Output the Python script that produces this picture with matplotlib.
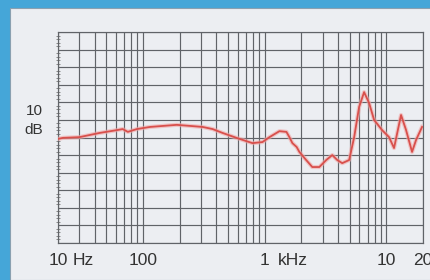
import matplotlib
matplotlib.use("Agg")
import matplotlib.pyplot as plt
from matplotlib.patches import Rectangle
from matplotlib.ticker import LogLocator, MultipleLocator, NullFormatter

# frequency response (Hz, dB)
freq = [20, 22, 30, 44, 61, 68, 75, 89, 114, 189, 242, 309, 373, 450, 586,
        793, 958, 1094, 1321, 1508, 1596, 1689, 1830, 1927, 2117, 2460, 2810,
        3206, 3592, 3946, 4337, 4946, 5436, 5972, 6561, 7212, 7926, 9220,
        10520, 11560, 13200, 14520, 16260, 17540, 19640]
level = [29.6, 29.9, 30.1, 31.3, 32.1, 32.4, 31.6, 32.4, 33.0, 33.6, 33.3,
         33.0, 32.4, 31.3, 29.9, 28.4, 28.7, 30.1, 31.8, 31.6, 30.1, 28.4,
         27.3, 25.9, 24.2, 21.6, 21.6, 23.6, 25.0, 23.6, 22.7, 23.6, 30.1,
         38.7, 42.9, 39.8, 35.0, 32.1, 30.1, 27.0, 36.4, 32.1, 25.9, 29.3, 33.0]

tick_pos = [20, 100, 1000, 10000, 20000]
tick_num = ["10", "100", "1", "10", "20"]
tick_unit = ["Hz", "", "kHz", "", ""]

fig = plt.figure(figsize=(4.3, 2.8), dpi=100)
fig.patch.set_facecolor("#45a6d8")
fig.patches.append(Rectangle((10 / 430, 0), 1, 1 - 8 / 280, transform=fig.transFigure,
                             facecolor="#eceef2", edgecolor="#8aa0b0", lw=0.8, zorder=-5))

ax = fig.add_axes([58 / 430, 37 / 280, 365 / 430, 211 / 280])
ax.set_facecolor("#eceef2")
ax.set_xscale("log")
ax.set_xlim(20, 20000)
ax.set_ylim(0, 60)

ax.xaxis.set_major_locator(LogLocator(base=10, numticks=10))
ax.xaxis.set_minor_locator(LogLocator(base=10, subs=range(2, 10), numticks=50))
ax.xaxis.set_major_formatter(NullFormatter())
ax.xaxis.set_minor_formatter(NullFormatter())
ax.yaxis.set_major_locator(MultipleLocator(5))
ax.yaxis.set_minor_locator(MultipleLocator(1))
ax.yaxis.set_major_formatter(NullFormatter())

ax.grid(which="major", axis="both", color="#606368", lw=0.85)
ax.grid(which="minor", axis="x", color="#606368", lw=0.85)
ax.tick_params(axis="x", which="both", length=0)
ax.tick_params(axis="y", which="major", length=0)
ax.tick_params(axis="y", which="minor", direction="inout", length=3, width=0.6, color="#777777")
for s in ax.spines.values():
    s.set_color("#606368")
    s.set_linewidth(0.85)

ax.plot(freq, level, color="#f2a8a8", lw=3.0, alpha=0.6, zorder=3)
ax.plot(freq, level, color="#d8504c", lw=1.3, zorder=4)

font = ["Liberation Sans Narrow", "Liberation Sans", "DejaVu Sans"]
unit_shift = {"Hz": 10.5, "kHz": 9.2}
for x, n, u in zip(tick_pos, tick_num, tick_unit):
    ax.annotate(n, xy=(x, 0), xycoords="data", xytext=(0, -12.5), textcoords="offset points",
                ha="center", va="center", fontsize=12.5, color="#333333", family=font,
                annotation_clip=False)
    if u:
        ax.annotate(u, xy=(x, 0), xycoords="data", xytext=(unit_shift[u], -12.5),
                    textcoords="offset points", ha="left", va="center", fontsize=12.5,
                    color="#333333", family=font, annotation_clip=False)

fig.text(43 / 430, 1 - 111 / 280, "10", ha="right", va="center", fontsize=11,
         color="#333333", family=font)
fig.text(43 / 430, 1 - 130 / 280, "dB", ha="right", va="center", fontsize=11,
         color="#333333", family=font)

fig.savefig("out.png", dpi=100, facecolor=fig.get_facecolor())
